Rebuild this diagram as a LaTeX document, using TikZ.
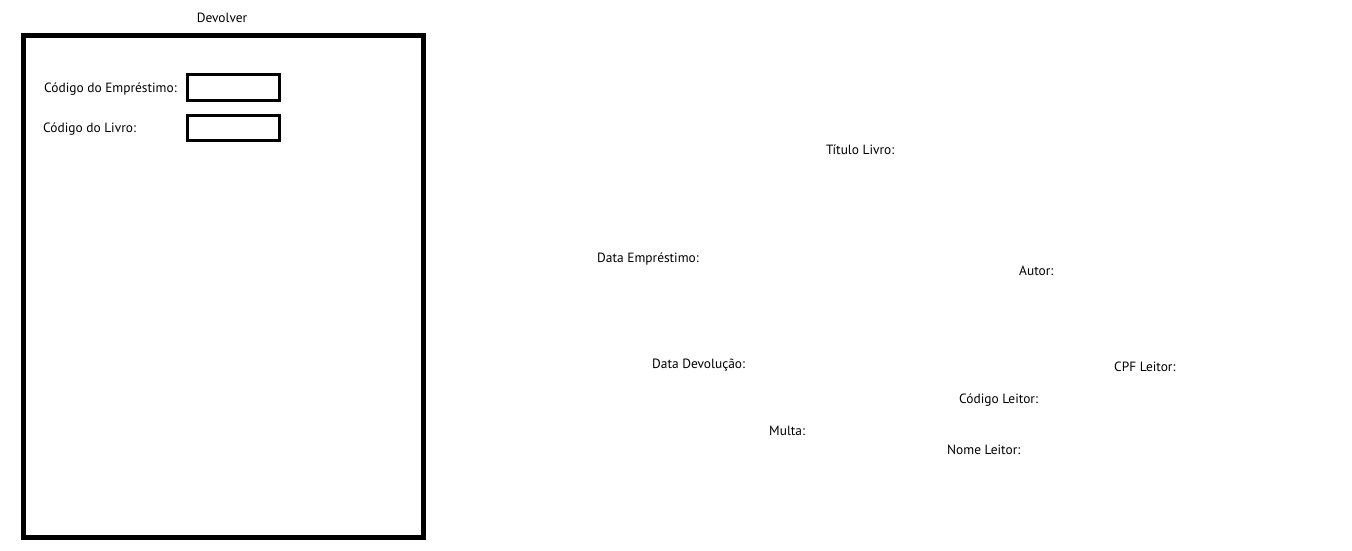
\documentclass[tikz,border=0pt]{standalone}
\usepackage{fontspec}
\setmainfont{PT Sans}
\begin{document}
\begin{tikzpicture}[x=1pt,y=-1pt,
  lbl/.style={anchor=west,inner sep=0pt,font=\fontsize{13.4}{15}\selectfont}]
\useasboundingbox (0,0) rectangle (1352,550);
% tela de devolucao
\node[anchor=center,inner sep=0pt,font=\fontsize{13.4}{15}\selectfont] (titulo) at (222,18) {Devolver};
\draw[line width=5pt] (23.5,35.5) rectangle (423.5,537.5);
\node[lbl] (codemp) at (44,89) {Código do Empréstimo:};
\draw[line width=3pt] (187.5,74.5) rectangle (279.5,100.5);
\node[lbl] (codliv) at (43,129) {Código do Livro:};
\draw[line width=3pt] (187.5,115.5) rectangle (279.5,140.5);
% campos
\node[lbl] (tit) at (826,150) {Título Livro:};
\node[lbl] (dtemp) at (597,259) {Data Empréstimo:};
\node[lbl] (autor) at (1019,271) {Autor:};
\node[lbl] (dtdev) at (652,365) {Data Devolução:};
\node[lbl] (cpf) at (1114,367) {CPF Leitor:};
\node[lbl] (codlei) at (959,400) {Código Leitor:};
\node[lbl] (multa) at (769,431) {Multa:};
\node[lbl] (nome) at (947,450) {Nome Leitor:};
\end{tikzpicture}
\end{document}
